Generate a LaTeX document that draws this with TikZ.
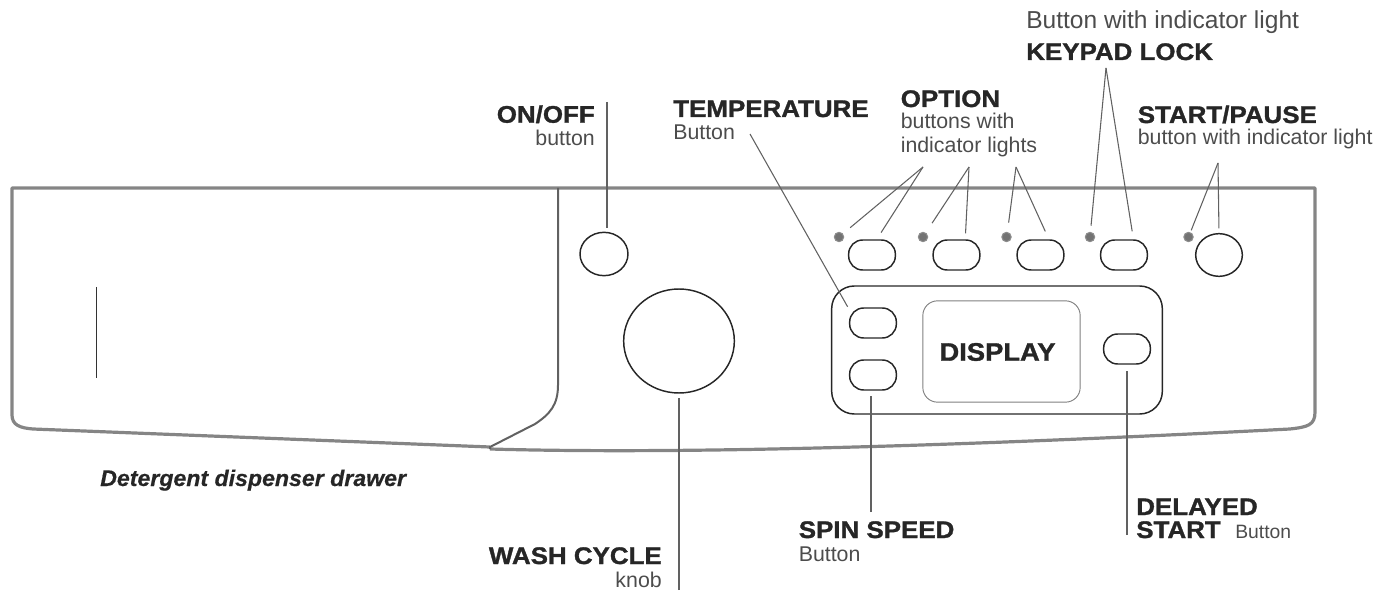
\documentclass[tikz,border=0pt]{standalone}
\usepackage{fontspec}
\usepackage{tikz}
\usetikzlibrary{shapes.geometric}
\setmainfont{Liberation Sans}
\newfontfamily\heavyfont[FakeStretch=1.08,FakeBold=1.3]{Liberation Sans Bold}
\newfontfamily\slantfont[FakeStretch=1.02,FakeBold=0.5]{Liberation Sans Bold Italic}
\definecolor{shell}{HTML}{858585}
\definecolor{ink}{HTML}{262626}
\tikzstyle{shellline}=  [color=shell,line width=2.4pt,line join=round]
\tikzstyle{leader}=     [color=black!62,line width=0.8pt]
\tikzstyle{pill}=       [draw=ink,line width=1.1pt,rectangle,rounded corners=10.5pt,minimum width=35pt,minimum height=22.5pt,inner sep=0pt]
\tikzstyle{knob}=       [draw=ink,line width=1.1pt,ellipse,inner sep=0pt]
\tikzstyle{led}=        [draw=black!45,fill=black!55,line width=0.8pt,circle,minimum size=7pt,inner sep=0pt]
\tikzstyle{title}=      [font=\heavyfont\fontsize{18}{18}\selectfont,text=ink,inner sep=0pt]
\tikzstyle{sub}=        [font=\fontsize{16}{16}\selectfont,text=black!70,inner sep=0pt]

\begin{document}
\begin{tikzpicture}[x=0.75pt,y=-0.75pt]
 \useasboundingbox (0,0) rectangle (1381,595);

 % housing
 \draw[shellline] (490,449) .. controls (700,455) and (1000,444) .. (1290,429)
  .. controls (1308,427) and (1315,425) .. (1315,412) -- (1315,188) -- (12,188) -- (12,415)
  .. controls (12,425) and (20,428) .. (33,429) -- (490,447);
 \draw[color=black!62,line width=1.5pt] (558,188) -- (558,385)
  .. controls (558,405) and (550,414) .. (535,424) -- (490,447) -- (490,449);
 \draw[color=black!80,line width=0.6pt] (96,287) -- (96,378);

 % buttons on the top row
 \foreach \n/\x in {1/872,2/956.5,3/1040.5,4/1124}
 {
  \node[pill] (btn\n) at (\x,255) {};
 }
 \node[knob,minimum width=35pt,minimum height=32pt] (btn5) at (1219,255) {};
 \foreach \n/\x in {1/839,2/923,3/1006.5,4/1090,5/1188.5}
 {
  \node[led] (led\n) at (\x,237) {};
 }
 \node[knob,minimum width=36pt,minimum height=32.5pt] (onoff) at (604,254) {};
 \node[knob,minimum width=83pt,minimum height=78pt] (cycle) at (679,341) {};

 % display panel
 \node[draw=ink,line width=1.1pt,rectangle,rounded corners=17pt,minimum width=248pt,minimum height=96pt,inner sep=0pt] (panel) at (997,350) {};
 \node[draw=black!50,line width=0.7pt,rectangle,rounded corners=11pt,minimum width=118pt,minimum height=76pt,inner sep=0pt] (screen) at (1001.5,351.5) {};
 \node[title,font=\heavyfont\fontsize{19}{19}\selectfont] (display) at (997.5,352) {DISPLAY};
 \node[pill] (temp) at (873,323) {};
 \node[pill] (spin) at (873,375) {};
 \node[pill] (delay) at (1127,349) {};

 % free ends of the leaders
 \foreach \n/\x/\y in {1/923/167,2/969/167,3/1016/167,4/1106/68,5/1218/163}
 {
  \coordinate (apex\n) at (\x,\y);
 }
 \coordinate (onoffEnd) at (607,102);
 \coordinate (tempEnd) at (750,134);
 \coordinate (spinEnd) at (871,512);
 \coordinate (delayEnd) at (1127,535);
 \coordinate (cycleEnd) at (679,590);

 \foreach \n/\la/\lc/\ba/\bc in {1/40/7/73/6,2/57/8.5/61/4.5,3/80/7/62/6.5,4/85/4.6/59/6,5/68/1.5/90/3.4}
 {
  \draw[leader,shorten >=\lc pt] (apex\n) -- (led\n.\la);
  \draw[leader,shorten >=\bc pt] (apex\n) -- (btn\n.\ba);
 }
 \draw[leader,shorten >=3pt] (onoffEnd) -- (onoffEnd |- onoff.north);
 \draw[leader,shorten >=2pt] (tempEnd) -- (temp.150);
 \draw[leader,shorten >=4pt] (spinEnd) -- (spinEnd |- spin.south);
 \draw[leader,shorten >=5pt] (delayEnd) -- (delay.south);
 \draw[leader,shorten >=3pt] (cycleEnd) -- (cycle.south);

 % labels
 \node[title,anchor=base east] (onoffT) at (595,122.7) {ON/OFF};
 \node[sub,anchor=base east] (onoffS) at (595,146) {button};
 \node[title,anchor=base west] (tempT) at (673,117) {TEMPERATURE};
 \node[sub,anchor=base west] (tempS) at (673,140) {Button};
 \node[title,anchor=base west] (optT) at (900.5,107) {OPTION};
 \node[sub,anchor=base west] (optS) at (900.5,129) {buttons with};
 \node[sub,anchor=base west] (optU) at (900.5,153) {indicator lights};
 \node[sub,font=\fontsize{18.4}{18.4}\selectfont,anchor=base west] (lockS) at (1026,29) {Button with indicator light};
 \node[title,anchor=base west] (lockT) at (1026,60) {KEYPAD LOCK};
 \node[title,anchor=base west] (startT) at (1137.5,123) {START/PAUSE};
 \node[sub,anchor=base west] (startS) at (1137.5,145) {button with indicator light};
 \node[title,anchor=base west] (spinT) at (798.5,538) {SPIN SPEED};
 \node[sub,anchor=base west] (spinS) at (798.5,561) {Button};
 \node[title,anchor=base west] (delayT) at (1136,515) {DELAYED};
 \node[title,anchor=base west] (delayU) at (1136,538) {START};
 \node[sub,font=\fontsize{14.5}{14.5}\selectfont,anchor=base west] (delayS) at (1235,538) {Button};
 \node[title,anchor=base east] (cycleT) at (662,564) {WASH CYCLE};
 \node[sub,anchor=base east] (cycleS) at (662,587) {knob};
 \node[inner sep=0pt,text=ink,anchor=base west,font=\slantfont\fontsize{17}{17}\selectfont] (drawer) at (100,486) {Detergent dispenser drawer};
\end{tikzpicture}
\end{document}
